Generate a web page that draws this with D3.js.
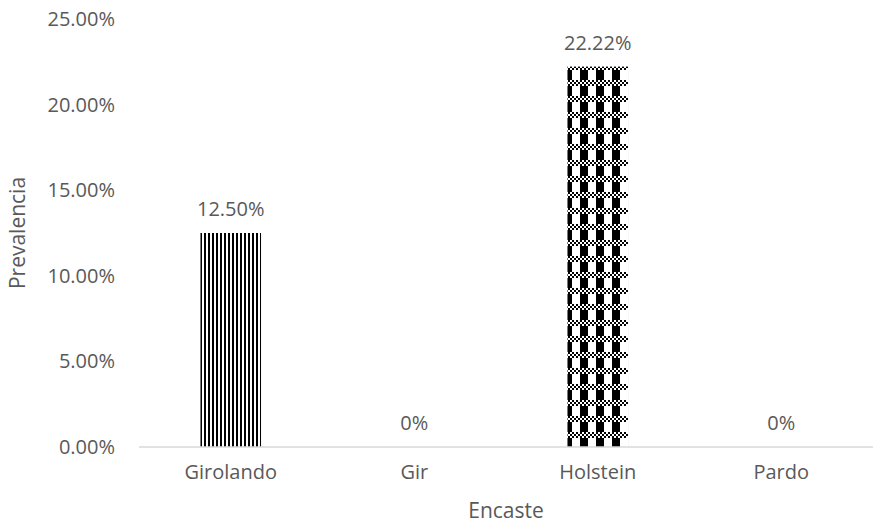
<!DOCTYPE html>
<html>
<head>
<meta charset="utf-8">
<script src="https://cdn.jsdelivr.net/npm/d3@7"></script>
<style>
  html, body { margin: 0; padding: 0; background: #fff; }
  svg { display: block; }
  text { font-family: "Open Sans", "Noto Sans", sans-serif; fill: #595959; }
</style>
</head>
<body>
<svg id="chart" width="887" height="529"></svg>
<script>
// Prevalence by breed (encaste)
const categories = ["Girolando", "Gir", "Holstein", "Pardo"];
const prevalence = [12.50, 0, 22.22, 0];
const valueLabels = ["12.50%", "0%", "22.22%", "0%"];
const fills = ["url(#stripes)", "none", "url(#checks)", "none"];
const yTicks = [0, 5, 10, 15, 20, 25];

const W = 887, H = 529;
const margin = { top: 19, right: 14, bottom: 82, left: 139 };
const FONT = "20px";

const svg = d3.select("#chart");
const defs = svg.append("defs");

// Narrow vertical stripes
const stripes = defs.append("pattern")
  .attr("id", "stripes").attr("patternUnits", "userSpaceOnUse")
  .attr("width", 4).attr("height", 4);
stripes.append("rect").attr("width", 4).attr("height", 4).attr("fill", "#fff");
stripes.append("rect").attr("width", 2).attr("height", 4).attr("fill", "#000");

// Block-and-checker pattern
const checks = defs.append("pattern")
  .attr("id", "checks").attr("patternUnits", "userSpaceOnUse")
  .attr("width", 16).attr("height", 16);
checks.append("rect").attr("width", 16).attr("height", 16).attr("fill", "#fff");
for (let r = 0; r < 3; r++) {
  for (let c = 0; c < 8; c++) {
    if ((r + c) % 2 === 0) {
      checks.append("rect").attr("x", c * 2).attr("y", r * 2)
        .attr("width", 2).attr("height", 2).attr("fill", "#000");
    }
  }
}
checks.append("rect").attr("x", 4).attr("y", 6).attr("width", 8).attr("height", 10).attr("fill", "#000");

const x = d3.scaleBand()
  .domain(categories)
  .range([margin.left, W - margin.right])
  .paddingInner(0.67).paddingOuter(0.335);

const y = d3.scaleLinear()
  .domain([0, 25])
  .range([H - margin.bottom, margin.top]);

// Y axis labels (no axis line)
const yAxis = d3.axisLeft(y)
  .tickValues(yTicks)
  .tickSize(0)
  .tickPadding(24)
  .tickFormat(d => d3.format(".2f")(d) + "%");
const gy = svg.append("g")
  .attr("transform", `translate(${margin.left},0)`)
  .call(yAxis);
gy.select(".domain").remove();
gy.selectAll("text").style("font-size", FONT).attr("fill", "#595959")
  .style("font-family", "'Open Sans', sans-serif");

// Bars
svg.append("g").selectAll("rect")
  .data(categories)
  .join("rect")
  .attr("x", d => x(d))
  .attr("width", x.bandwidth())
  .attr("y", (d, i) => y(prevalence[i]))
  .attr("height", (d, i) => y(0) - y(prevalence[i]))
  .attr("fill", (d, i) => fills[i]);

// X axis
const xAxis = d3.axisBottom(x).tickSize(0).tickPadding(18);
const gx = svg.append("g")
  .attr("transform", `translate(0,${y(0)})`)
  .call(xAxis);
gx.select(".domain").attr("stroke", "#d9d9d9").attr("stroke-width", 1.3)
  .attr("d", `M${margin.left},0H${W - margin.right}`);
gx.selectAll("text").style("font-size", FONT).attr("fill", "#595959")
  .style("font-family", "'Open Sans', sans-serif");

// Value labels
svg.append("g").selectAll("text")
  .data(categories)
  .join("text")
  .attr("x", d => x(d) + x.bandwidth() / 2)
  .attr("y", (d, i) => y(prevalence[i]) - 17)
  .attr("text-anchor", "middle")
  .style("font-size", FONT)
  .text((d, i) => valueLabels[i]);

// Axis titles
svg.append("text")
  .attr("x", (margin.left + W - margin.right) / 2)
  .attr("y", 518)
  .attr("text-anchor", "middle")
  .style("font-size", "21px")
  .text("Encaste");

svg.append("text")
  .attr("transform", `translate(25,${(margin.top + H - margin.bottom) / 2}) rotate(-90)`)
  .attr("text-anchor", "middle")
  .style("font-size", "21px")
  .text("Prevalencia");
</script>
</body>
</html>
